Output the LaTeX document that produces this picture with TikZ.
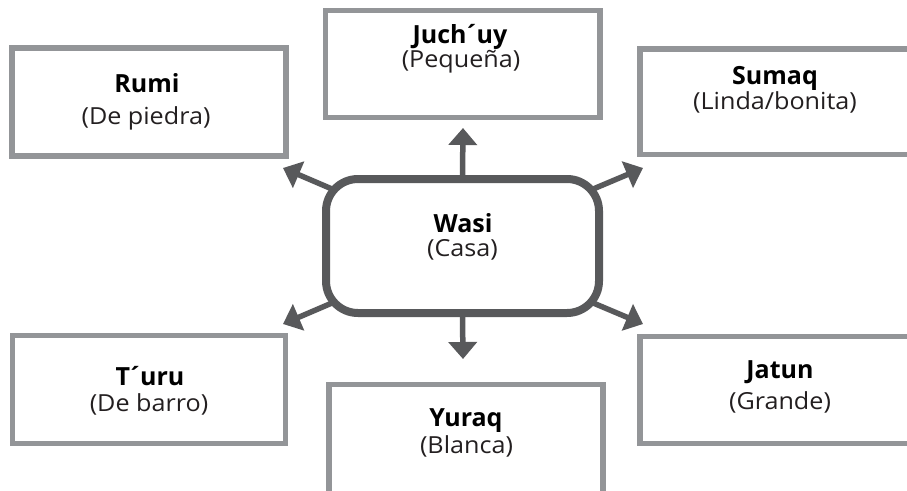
\documentclass[tikz,border=0pt]{standalone}
\usepackage{fontspec}
\setmainfont{Open Sans}
\newfontfamily\regfont[FakeStretch=1.07]{Open Sans}
\usetikzlibrary{arrows.meta,calc}
\definecolor{boxgray}{HTML}{939598}
\definecolor{hubgray}{HTML}{58595B}
\definecolor{ink}{HTML}{231F20}
\pgfdeclarelayer{bg}
\pgfsetlayers{bg,main}
\tikzset{
  wbox/.style={draw=boxgray, line width=5.5pt, fill=white, rectangle, inner sep=0pt},
  hub/.style={draw=hubgray, line width=8pt, fill=white, rounded corners=32pt, inner sep=0pt,
              minimum width=273pt, minimum height=134pt},
  conn/.style={draw=hubgray, line width=5.5pt, -{Triangle[width=28pt,length=17pt]}},
  title/.style={font=\bfseries\fontsize{25}{28}\selectfont, text=black, anchor=base, inner sep=0pt},
  sub/.style={font=\regfont\fontsize{23.5}{27}\selectfont, text=ink, anchor=base, inner sep=0pt},
}
\begin{document}
\begin{tikzpicture}[x=1pt,y=-1pt]
\useasboundingbox (0,0) rectangle (907,490);
% boxes
\node[wbox, minimum width=274pt, minimum height=108pt] (rumi) at (149,102) {};
\node[wbox, minimum width=274.5pt, minimum height=107pt] (juchuy) at (462.75,64) {};
\node[wbox, minimum width=275pt, minimum height=105.5pt] (sumaq) at (777.5,101.75) {};
\node[wbox, minimum width=273pt, minimum height=108pt] (turu) at (149,389.5) {};
\node[wbox, minimum width=274pt, minimum height=110.5pt] (yuraq) at (466,439.75) {};
\node[wbox, minimum width=275pt, minimum height=107pt] (jatun) at (777.5,390) {};
\node[hub] (wasi) at (462.5,246) {};
% texts
\node[title] (rumiT) at (147,92) {Rumi};
\node[sub] (rumiS) at (146,124) {(De piedra)};
\node[title] (juchuyT) at (460,43) {Juch\kern-2.5pt´\kern-2.5pt uy};
\node[sub] (juchuyS) at (461,67) {(Pequeña)};
\node[title] (sumaqT) at (775,84) {Sumaq};
\node[sub] (sumaqS) at (775,109) {(Linda/bonita)};
\node[title] (wasiT) at (463,232) {Wasi};
\node[sub] (wasiS) at (462.5,256) {(Casa)};
\node[title] (turuT) at (150,385) {T\kern-2.5pt´\kern-2.5pt uru};
\node[sub] (turuS) at (149,411) {(De barro)};
\node[title] (yuraqT) at (466,426) {Yuraq};
\node[sub] (yuraqS) at (466.5,453) {(Blanca)};
\node[title] (jatunT) at (780,378) {Jatun};
\node[sub] (jatunS) at (780,409) {(Grande)};
% arrow tips
\coordinate (tN) at (463,128);
\coordinate (tS) at (463,359);
\coordinate (tNW) at (283,168);
\coordinate (tNE) at (643,168);
\coordinate (tSW) at (283,324);
\coordinate (tSE) at (643,324);
\begin{pgfonlayer}{bg}
\fill[white] (0,0) rectangle (907,490);
\draw[conn] (wasi.north) -- (tN);
\draw[conn] (wasi.south) -- (tS);
\draw[conn] ($(wasi.north west)+(24,20)$) -- (tNW);
\draw[conn] ($(wasi.north east)+(-24,20)$) -- (tNE);
\draw[conn] ($(wasi.south west)+(24,-20)$) -- (tSW);
\draw[conn] ($(wasi.south east)+(-24,-20)$) -- (tSE);
\end{pgfonlayer}
\end{tikzpicture}
\end{document}
